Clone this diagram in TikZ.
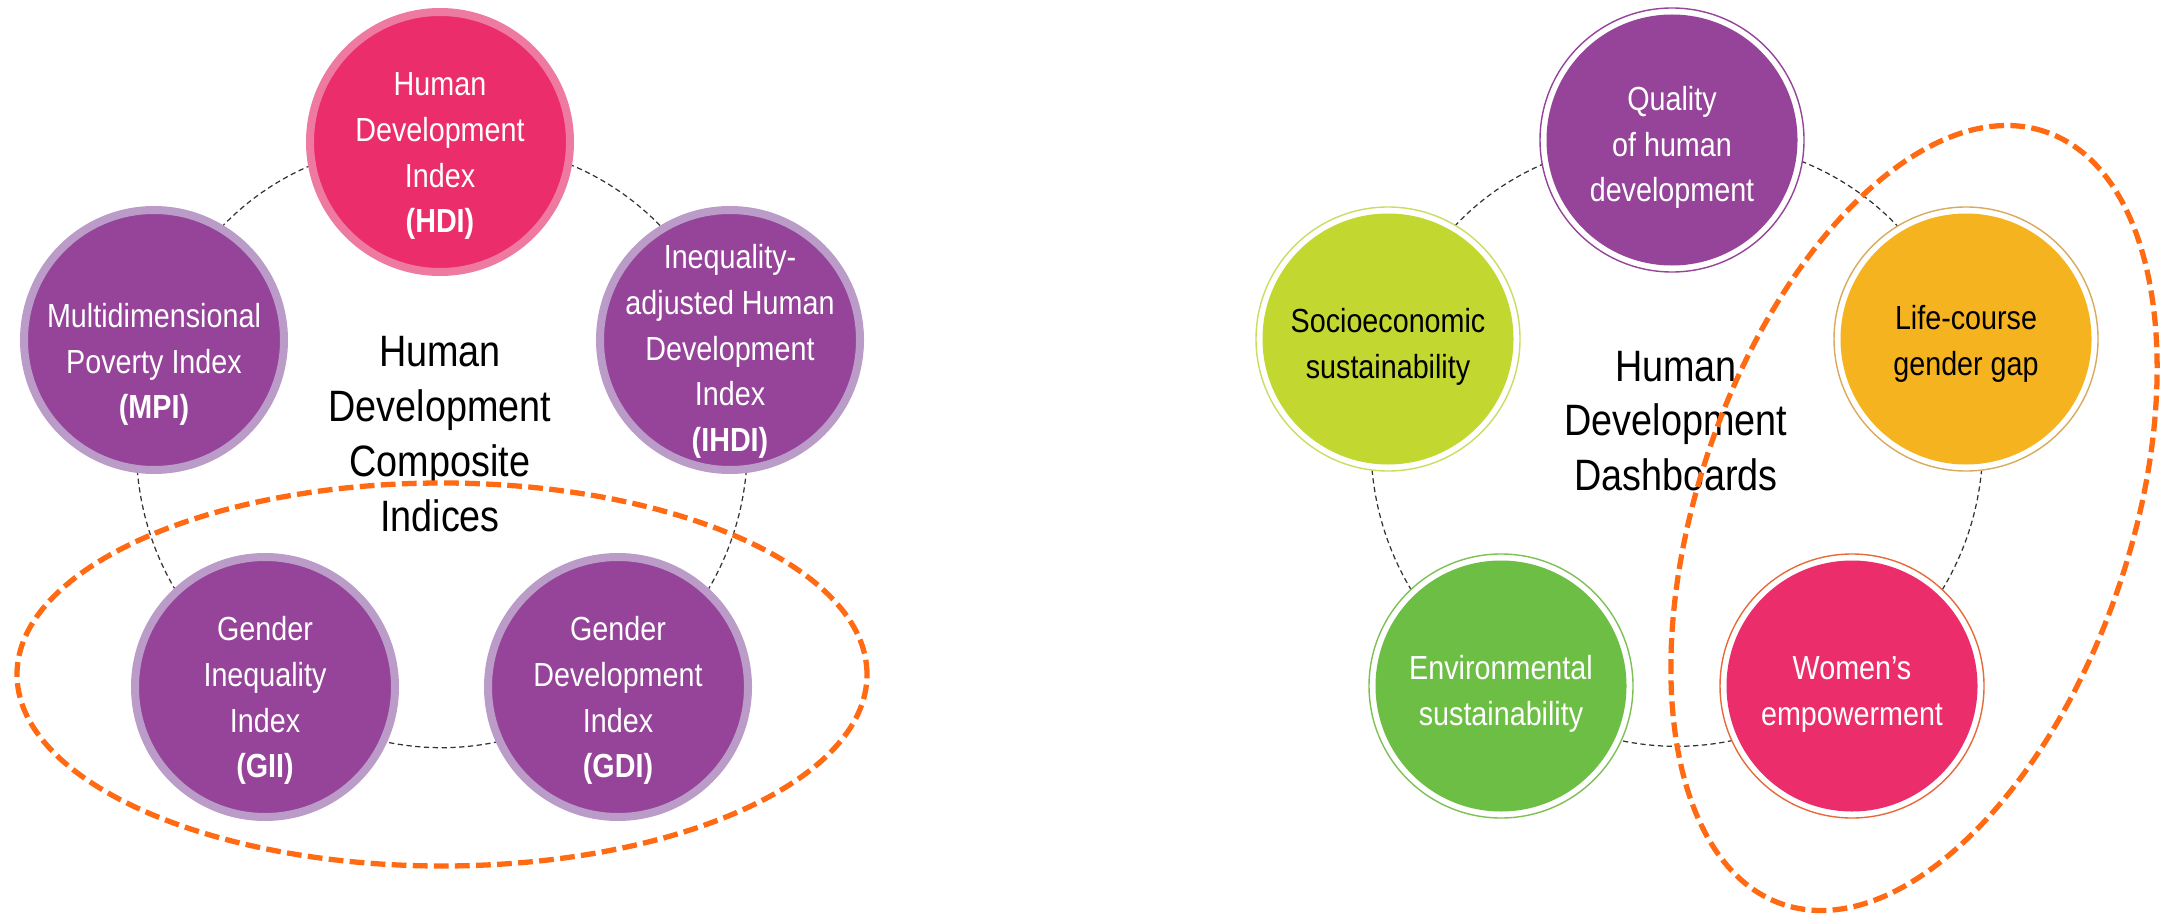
\documentclass[tikz,border=0pt]{standalone}
\usepackage{fontspec}
\setmainfont{Liberation Sans}[FakeStretch=0.86]
\usetikzlibrary{backgrounds}

\definecolor{hdpurple}{HTML}{95449A}
\definecolor{hdlilac}{HTML}{BB9BC7}
\definecolor{hdpink}{HTML}{EC2D6B}
\definecolor{hdrose}{HTML}{EE7AA2}
\definecolor{hdlime}{HTML}{C2D830}
\definecolor{hdlimering}{HTML}{C9DD5E}
\definecolor{hdgold}{HTML}{F5B41F}
\definecolor{hdgoldring}{HTML}{D9AA5C}
\definecolor{hdgreen}{HTML}{6DBE45}
\definecolor{hdgreenring}{HTML}{7DC154}
\definecolor{hdred}{HTML}{E86A3C}
\definecolor{hdorange}{HTML}{FF6A13}

% centred lines, lowered a bit, taking no height (so the circles keep their size)
\renewcommand{\arraystretch}{1.04}
\newcommand{\rows}[2][0.21cm]{\raisebox{-#1}[0pt][0pt]{\begin{tabular}{@{}c@{}}#2\end{tabular}}}

\begin{document}
\begin{tikzpicture}[
    font=\fontsize{9.5}{12.5}\selectfont,
    index/.style={circle, inner sep=0pt, minimum size=2.6cm, line width=0.08cm,
      fill=hdpurple, draw=hdlilac, text=white},
    board/.style 2 args={circle, inner sep=0pt, minimum size=2.64cm, line width=0.4pt,
      draw=#1, fill=white,
      path picture={\fill[#2] (path picture bounding box.center) circle (1.255cm);}},
    link/.style={draw=black!80, line width=0.35pt, dash pattern=on 1.5pt off 1pt},
    hilite/.style={draw=hdorange, line width=1.5pt, dash pattern=on 4.2pt off 1.8pt},
    title/.style={align=center, font=\fontsize{12.5}{15.6}\selectfont}]

  \useasboundingbox (0,0) rectangle (21.68,9.23);

  % composite indices
  \node[index, fill=hdpink, draw=hdrose] (hdi) at (4.40,7.81) {\rows{Human\\Development\\Index\\\textbf{(HDI)}}};
  \node[index] (mpi)  at (1.54,5.83) {\rows[0.32cm]{Multidimensional\\Poverty Index\\\textbf{(MPI)}}};
  \node[index] (ihdi) at (7.30,5.83) {\rows[0.19cm]{Inequality-\\adjusted Human\\Development\\Index\\\textbf{(IHDI)}}};
  \node[index] (gii)  at (2.65,2.36) {\rows{Gender\\Inequality\\Index\\\textbf{(GII)}}};
  \node[index] (gdi)  at (6.18,2.36) {\rows{Gender\\Development\\Index\\\textbf{(GDI)}}};
  \node[title] (composite) at (4.40,4.89) {Human\\Development\\Composite\\Indices};

  % dashboards
  \node[board={hdpurple}{hdpurple}, text=white] (quality) at (16.72,7.83) {\rows[0.15cm]{Quality\\of human\\development}};
  \node[board={hdlimering}{hdlime}]   (socio) at (13.88,5.84) {\rows[0.15cm]{Socioeconomic\\sustainability}};
  \node[board={hdgoldring}{hdgold}]   (life)  at (19.66,5.84) {\rows[0.12cm]{Life-course\\gender gap}};
  \node[board={hdgreenring}{hdgreen}, text=white] (env)   at (15.01,2.37) {\rows[0.15cm]{Environmental\\sustainability}};
  \node[board={hdred}{hdpink}, text=white]        (women) at (18.52,2.37) {\rows[0.15cm]{Women’s\\empowerment}};
  \node[title] (dashboards) at (16.76,5.02) {Human\\Development\\Dashboards};

  \begin{scope}[on background layer, every edge/.style={link}]
    \path (hdi.center)  edge[bend left=36] (ihdi.center);
    \path (ihdi.center) edge[bend left=36] (gdi.center);
    \path (gdi.center)  edge[bend left=36] (gii.center);
    \path (gii.center)  edge[bend left=36] (mpi.center);
    \path (mpi.center)  edge[bend left=36] (hdi.center);

    \path (quality.center) edge[bend left=36] (life.center);
    \path (life.center)    edge[bend left=36] (women.center);
    \path (women.center)   edge[bend left=36] (env.center);
    \path (env.center)     edge[bend left=36] (socio.center);
    \path (socio.center)   edge[bend left=36] (quality.center);
  \end{scope}

  % gender groups
  \draw[hilite] (4.42,2.485) ellipse [x radius=4.25, y radius=1.915];
  \draw[hilite, rotate around={71.2:(19.14,4.05)}] (19.14,4.05) ellipse [x radius=4.08, y radius=2.16];

\end{tikzpicture}
\end{document}
